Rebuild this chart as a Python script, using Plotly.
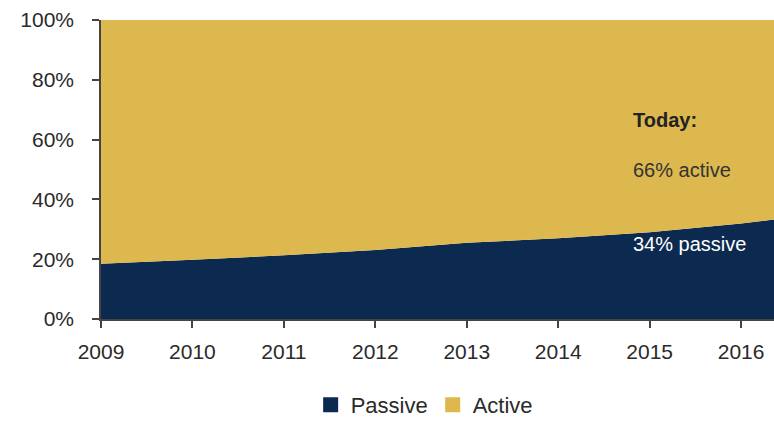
import plotly.graph_objects as go

years = [2009, 2010, 2011, 2012, 2013, 2014, 2015, 2016, 2016.36]
passive = [18.5, 19.8, 21.3, 23.1, 25.5, 27.0, 29.0, 31.9, 33.3]
active = [100 - p for p in passive]
tick_years = [2009, 2010, 2011, 2012, 2013, 2014, 2015, 2016]
tick_labels = [str(y) for y in tick_years]
y_ticks = [0, 20, 40, 60, 80, 100]
y_labels = [f"{v}%" for v in y_ticks]

NAVY = "#0C2A50"
GOLD = "#DDB84E"
FONT = "Liberation Sans, Arial, sans-serif"

fig = go.Figure()
fig.add_trace(go.Scatter(x=years, y=passive, name="Passive", stackgroup="one",
                         mode="none", fillcolor=NAVY, showlegend=False))
fig.add_trace(go.Scatter(x=years, y=active, name="Active", stackgroup="one",
                         mode="none", fillcolor=GOLD, showlegend=False))
# legend entries with square swatches
fig.add_trace(go.Scatter(x=[None], y=[None], name="Passive", mode="markers",
                         marker=dict(symbol="square", size=15, color=NAVY)))
fig.add_trace(go.Scatter(x=[None], y=[None], name="Active", mode="markers",
                         marker=dict(symbol="square", size=15, color=GOLD)))

ann_x = 2014.80
fig.add_annotation(x=ann_x, y=66.5, text="<b>Today:</b>", showarrow=False,
                   font=dict(family=FONT, size=20, color="#222"), xanchor="left")
fig.add_annotation(x=ann_x, y=49.8, text="66% active", showarrow=False,
                   font=dict(family=FONT, size=20, color="#333"), xanchor="left")
fig.add_annotation(x=ann_x, y=25.0, text="34% passive", showarrow=False,
                   font=dict(family=FONT, size=20, color="#ffffff"), xanchor="left")

fig.update_layout(
    width=774, height=425,
    margin=dict(l=101, r=0, t=20, b=106, autoexpand=False),
    paper_bgcolor="white", plot_bgcolor="white",
    font=dict(family=FONT, size=21, color="#2a2a2a"),
    showlegend=True,
    legend=dict(orientation="h", x=0.548, xanchor="center", xref="container",
                y=0.047, yanchor="middle", yref="container",
                font=dict(size=22, color="#2a2a2a"),
                traceorder="normal", itemwidth=30),
    xaxis=dict(range=[2009, 2016.36], tickmode="array", tickvals=tick_years,
               ticktext=tick_labels, showgrid=False, zeroline=False,
               showline=True, linecolor="#444", linewidth=1.5, tickangle=0,
               automargin=False,
               ticks="outside", ticklen=7, tickcolor="#444", tickwidth=1.5,
               ticklabelstandoff=6),
    yaxis=dict(range=[0, 100], tickmode="array", tickvals=y_ticks, ticktext=y_labels,
               showgrid=False, zeroline=False, automargin=False,
               showline=True, linecolor="#444", linewidth=1.5,
               ticks="outside", ticklen=7, tickcolor="#444", tickwidth=1.5,
               ticklabelstandoff=14),
)

fig.write_html("out.html")
